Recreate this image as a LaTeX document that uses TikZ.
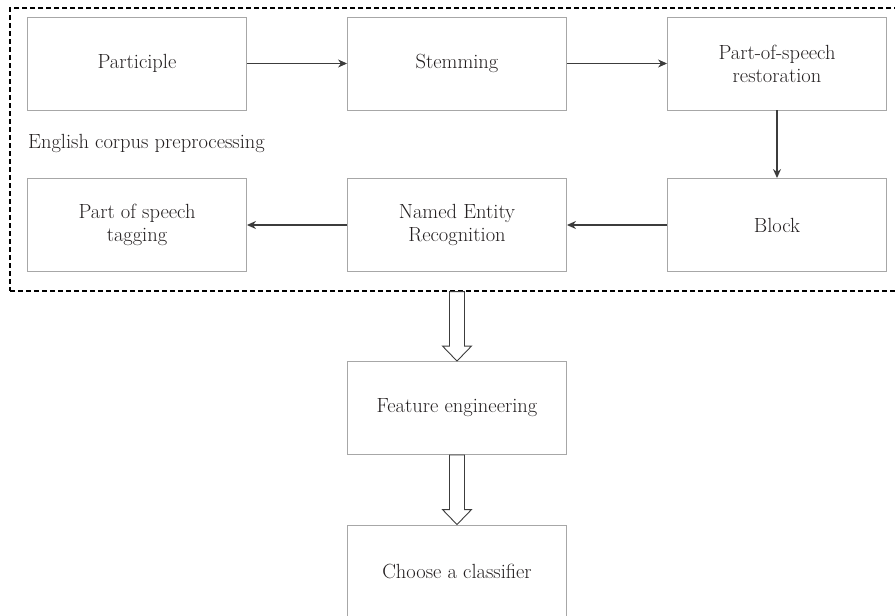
\documentclass[tikz,border=0pt]{standalone}
\usetikzlibrary{arrows.meta,calc}

\definecolor{txtgray}{HTML}{231F20}
\definecolor{boxgray}{HTML}{A7A7A7}
\definecolor{arrgray}{HTML}{3C3C3C}

\newcommand{\hollowarrow}[2]{%
  \draw [arrgray, line width=0.9pt] ($(#1)+(-7.5,0)$) -- ($(#2)+(-7.5,-15)$) -- ($(#2)+(-14.5,-15)$)
    -- (#2) -- ($(#2)+(14.5,-15)$) -- ($(#2)+(7.5,-15)$) -- ($(#1)+(7.5,0)$) -- cycle;}

\begin{document}
\begin{tikzpicture}[x=1pt,y=-1pt]
            \tikzstyle{every node}+=[inner sep=0pt, text=txtgray, font=\fontsize{20.5}{23}\selectfont]
            \tikzstyle{stepbox}=[draw=boxgray, line width=0.9pt, minimum width=219pt, minimum height=93pt, align=center]
            \tikzstyle{link}=[draw=arrgray, line width=1.2pt, -{Stealth[length=9pt,width=8pt]}]
            \clip (0,0) rectangle (895,616);
            \useasboundingbox (0,0) rectangle (895,616);
            % preprocessing frame
            \node [draw=black, dashed, dash pattern=on 5pt off 3pt, line width=1.2pt,
              minimum width=895pt, minimum height=283pt] (corpus) at (457.5,149.5) {};
            \node [anchor=west] (corpuslabel) at (28,143) {English corpus preprocessing};
            % first row
            \node [stepbox] (participle) at (137,63.5) {Participle};
            \node [stepbox] (stemming) at (457,63.5) {Stemming};
            \node [stepbox] (restore) at (777,63.5) {Part-of-speech\\restoration};
            % second row
            \node [stepbox] (tagging) at (137,225) {Part of speech\\tagging};
            \node [stepbox] (ner) at (457,225) {Named Entity\\Recognition};
            \node [stepbox] (block) at (777,225) {Block};
            % lower steps
            \node [stepbox] (feature) at (457,408) {Feature engineering};
            \node [stepbox] (classifier) at (457,571.5) {Choose a classifier};
            % arrows
            \draw [link] (participle) -- (stemming);
            \draw [link] (stemming) -- (restore);
            \draw [link] (restore) -- (block);
            \draw [link] (block) -- (ner);
            \draw [link] (ner) -- (tagging);
            \hollowarrow{feature.north |- corpus.south}{feature.north}
            \hollowarrow{feature.south}{classifier.north}
\end{tikzpicture}
\end{document}
